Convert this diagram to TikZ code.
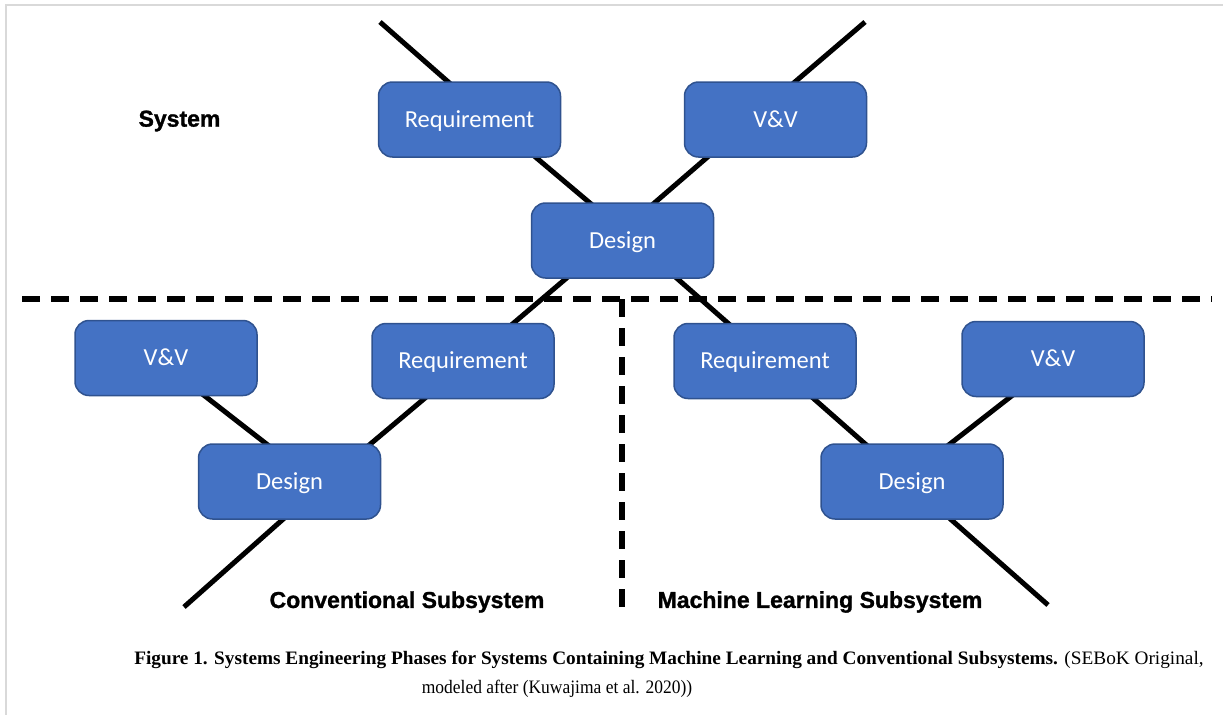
\documentclass[tikz,border=0pt]{standalone}
\usepackage{fontspec}
\setmainfont{Liberation Serif}
\newfontfamily\boxfont{Carlito}
\newfontfamily\labelfont{Liberation Sans Bold}[FakeBold=1.2]
\usetikzlibrary{calc, backgrounds}
\definecolor{boxfill}{HTML}{4472C4}
\definecolor{boxedge}{HTML}{2F528F}
\definecolor{framegray}{HTML}{D9D9D9}

\begin{document}
\begin{tikzpicture}[
    x=1pt, y=-1pt,
    phase/.style={draw=boxedge, line width=1.5pt, fill=boxfill, rounded corners=14pt,
        minimum width=182pt, minimum height=75pt, inner sep=0pt, text=white,
        font=\boxfont\fontsize{24.5}{29}\selectfont, text height=15.8pt, text depth=0pt},
    arm/.style={line width=5pt, black},
    divider/.style={line width=6pt, black, dash pattern=on 18pt off 11pt},
    level/.style={font=\labelfont\fontsize{23}{28}\selectfont},
    caption/.style={font=\fontsize{19}{29}\selectfont}
]

\useasboundingbox (0,0) rectangle (1223,715);

% Frame
\draw[framegray, line width=2pt] (1223,5) -- (6,5) -- (6,715);

% System
\node[phase] (sysReq) at (469.5,119.5) {Requirement};
\node[phase] (sysVV) at (775.5,119.5) {V\&V};
\node[phase] (sysDesign) at (622.5,240.5) {Design};
\node[level] (sysLabel) at (179.5,121) {System};

% Conventional Subsystem
\node[phase] (convVV) at (166,358) {V\&V};
\node[phase] (convReq) at (463,361) {Requirement};
\node[phase] (convDesign) at (289.5,481.5) {Design};
\node[level] (convLabel) at (407,602) {Conventional Subsystem};

% Machine Learning Subsystem
\node[phase] (mlReq) at (765,361) {Requirement};
\node[phase] (mlVV) at (1053,359) {V\&V};
\node[phase] (mlDesign) at (912,481.5) {Design};
\node[level] (mlLabel) at (820,602) {Machine Learning Subsystem};

% Hubs where the arms pass
\coordinate (sysReqHub) at ([xshift=21.5pt]sysReq.center);
\coordinate (sysVVHub) at ([xshift=-24.5pt]sysVV.center);
\coordinate (sysDesignHub) at ([yshift=10pt]sysDesign.center);
\coordinate (convReqHub) at ([xshift=6pt]convReq.center);
\coordinate (convVVHub) at ([xshift=-10pt]convVV.center);
\coordinate (convDesignHub) at ([xshift=31pt, yshift=-4.5pt]convDesign.center);
\coordinate (mlReqHub) at ([xshift=6pt]mlReq.center);
\coordinate (mlVVHub) at ([xshift=6pt]mlVV.center);
\coordinate (mlDesignHub) at ([xshift=-7pt, yshift=2.5pt]mlDesign.center);

% Free ends
\coordinate (sysTopL) at (380,22);
\coordinate (sysTopR) at (865,22);
\coordinate (convEnd) at (184,607);
\coordinate (mlEnd) at (1048,605);

% Arms
\begin{scope}[on background layer]
\draw[arm] (sysTopL) -- (sysReqHub) -- (sysDesignHub);
\draw[arm] (sysTopR) -- (sysVVHub) -- (sysDesignHub);
\draw[arm] (sysDesignHub) -- (convReqHub) -- (convDesignHub) -- (convEnd);
\draw[arm] (convVVHub) -- (convDesignHub);
\draw[arm] (sysDesignHub) -- (mlReqHub) -- (mlDesignHub) -- (mlEnd);
\draw[arm] (mlVVHub) -- (mlDesignHub);
\end{scope}

% Dividers
\coordinate (divL) at (22,299);
\coordinate (divR) at (1212,299);
\coordinate (divTop) at (622,299);
\coordinate (divBot) at (622,608);
\draw[divider] (divL) -- (divR);
\draw[divider] (divTop) -- (divBot);

% Caption
\node[caption] (caption1) at (669,660)
    {\scalebox{1.015}[1]{\textbf{Figure 1. Systems Engineering Phases for Systems Containing Machine Learning and Conventional Subsystems.} (SEBoK Original,}};
\node[caption] (caption2) at (557,689)
    {\scalebox{0.92}[1]{modeled after (Kuwajima et al. 2020))}};

\end{tikzpicture}
\end{document}
